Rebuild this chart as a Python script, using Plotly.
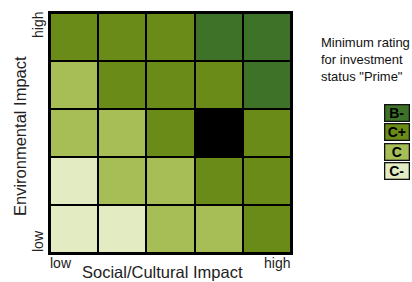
import plotly.graph_objects as go

# Data
x_labels = ["S1", "S2", "S3", "S4", "S5"]          # Social/Cultural impact, low -> high
y_labels = ["E1", "E2", "E3", "E4", "E5"]          # Environmental impact, low -> high
ratings = [                                        # rows bottom (low env) -> top (high env)
    ["C-", "C-", "C", "C", "C+"],
    ["C-", "C", "C", "C+", "C+"],
    ["C", "C", "C+", "X", "C+"],
    ["C", "C+", "C+", "C+", "B-"],
    ["C+", "C+", "C+", "B-", "B-"],
]
levels = ["X", "C-", "C", "C+", "B-"]
level_colors = ["#000000", "#e2ebc1", "#a7bd56", "#6a8b17", "#3f7229"]
legend_labels = ["B-", "C+", "C", "C-"]
legend_colors = ["#3f7229", "#6a8b17", "#a7bd56", "#e2ebc1"]

z = [[levels.index(r) for r in row] for row in ratings]
n = len(levels)
cs = []
for i, c in enumerate(level_colors):
    cs.append([i / n, c])
    cs.append([(i + 1) / n, c])

fig = go.Figure(go.Heatmap(
    z=z, x=x_labels, y=y_labels, colorscale=cs, zmin=-0.5, zmax=n - 0.5,
    showscale=False, xgap=2, ygap=2, hoverinfo="skip"))

W, H = 412, 282
L, R, T, B = 50, 291, 13, 253
fig.update_layout(
    width=W, height=H,
    margin=dict(l=L, r=W - R, t=T, b=H - B, pad=0),
    paper_bgcolor="white", plot_bgcolor="black",
    font=dict(family="Liberation Sans, Arial, sans-serif", color="#222"),
    xaxis=dict(showticklabels=False, ticks="", showgrid=False, zeroline=False,
               showline=True, linecolor="black", linewidth=2, mirror=True,
               range=[-0.5, 4.5], fixedrange=True),
    yaxis=dict(showticklabels=False, ticks="", showgrid=False, zeroline=False,
               showline=True, linecolor="black", linewidth=2, mirror=True,
               range=[-0.5, 4.5], fixedrange=True),
)

def px_x(p):
    return (p - L) / (R - L)

def px_y(p):
    return (B - p) / (B - T)

ann = []
# axis end labels
ann.append(dict(text="low", x=px_x(48), y=px_y(253), xref="paper", yref="paper",
                xanchor="left", yanchor="top", showarrow=False, font=dict(size=14)))
ann.append(dict(text="high", x=px_x(292), y=px_y(253), xref="paper", yref="paper",
                xanchor="right", yanchor="top", showarrow=False, font=dict(size=14)))
ann.append(dict(text="high", x=px_x(48), y=px_y(10), xref="paper", yref="paper",
                xanchor="right", yanchor="top", textangle=-90, showarrow=False, font=dict(size=14)))
ann.append(dict(text="low", x=px_x(48), y=px_y(254), xref="paper", yref="paper",
                xanchor="right", yanchor="bottom", textangle=-90, showarrow=False, font=dict(size=14)))
# axis titles
ann.append(dict(text="Social/Cultural Impact", x=px_x(162), y=px_y(282), xref="paper", yref="paper",
                xanchor="center", yanchor="bottom", showarrow=False, font=dict(size=16.5),
                borderpad=0))
ann.append(dict(text="Environmental Impact", x=px_x(20), y=px_y(136), xref="paper", yref="paper",
                xanchor="center", yanchor="middle", textangle=-90, showarrow=False, font=dict(size=16.5)))
# legend title
ann.append(dict(text="Minimum rating<br>for investment<br>status \"Prime\"", align="left",
                x=px_x(319), y=px_y(33), xref="paper", yref="paper",
                xanchor="left", yanchor="top", showarrow=False, font=dict(size=13, color="#111")))
# legend boxes
for i, (lab, col) in enumerate(zip(legend_labels, legend_colors)):
    cy = 112.5 + i * 19.5
    ann.append(dict(text="<b>" + lab + "</b>", x=px_x(396.5), y=px_y(cy), xref="paper", yref="paper",
                    xanchor="center", yanchor="middle", showarrow=False,
                    width=23, height=15, bgcolor=col, bordercolor="#111",
                    borderwidth=1.3, borderpad=0,
                    font=dict(size=14, color="black")))
fig.update_layout(annotations=ann)

fig.write_html("out.html", config={"displayModeBar": False},
               post_script="document.body.style.margin='0';document.body.style.overflow='hidden';")
